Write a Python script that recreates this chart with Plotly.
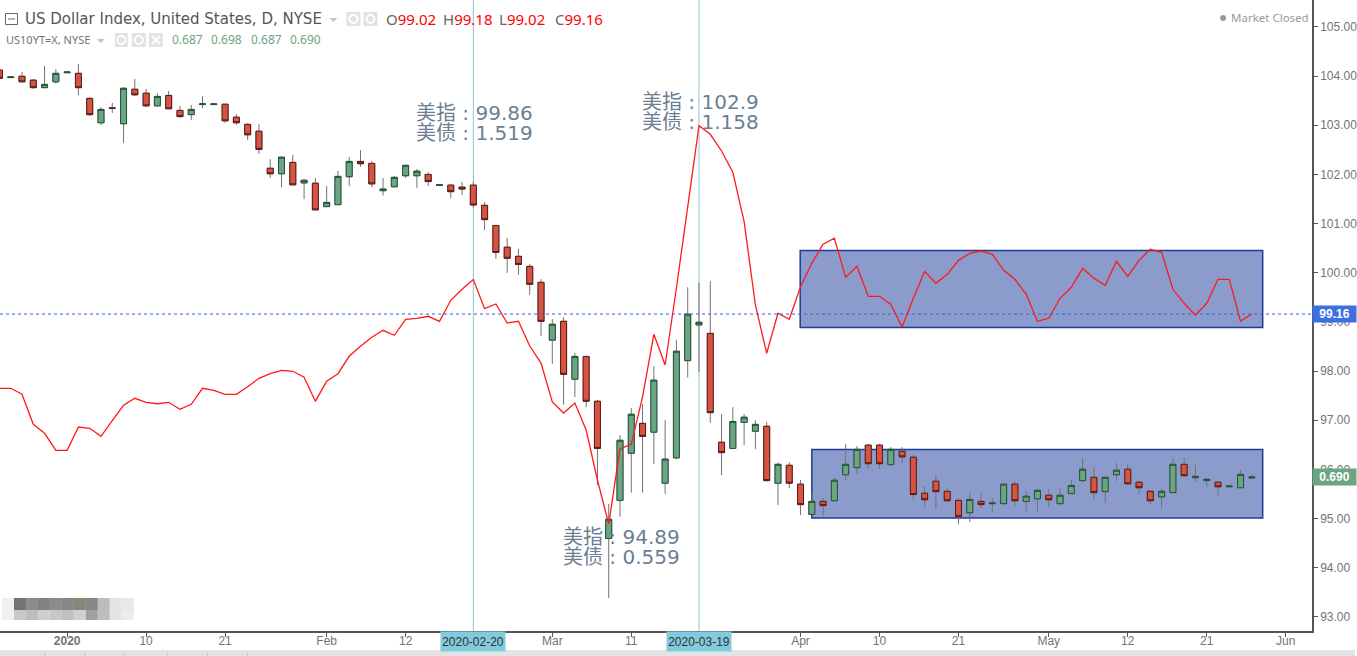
import pandas as pd
import plotly.graph_objects as go

W, H = 1357, 656
PL, PT = 1314, 631

# Trading-day categories of the chart (last candle 2020-05-27, axis runs on to June)
all_days = [d.strftime("%Y-%m-%d") for d in pd.bdate_range("2019-12-24", "2020-06-04")]
candle_days = all_days[:112]

tick_days = ["2020-01-01", "2020-01-10", "2020-01-21", "2020-02-03", "2020-02-12", "2020-03-02", "2020-03-11",
             "2020-04-01", "2020-04-10", "2020-04-21", "2020-05-01", "2020-05-12", "2020-05-21", "2020-06-01"]
tick_text = ["<b>2020</b>", "10", "21", "Feb", "12", "Mar", "11", "Apr", "10", "21", "May", "12", "21", "Jun"]

# US10YT=X daily candles (yield, drawn on its own hidden scale)
us10_open = [
    1.942, 1.919, 1.923, 1.911, 1.888, 1.906, 1.934, 1.932, 1.855, 1.780,
    1.826, 1.777, 1.883, 1.871, 1.832, 1.864, 1.818, 1.805, 1.836, 1.836,
    1.837, 1.797, 1.775, 1.754, 1.640, 1.623, 1.658, 1.595, 1.594, 1.522,
    1.528, 1.614, 1.661, 1.655, 1.571, 1.583, 1.617, 1.617, 1.621, 1.587,
    1.588, 1.582, 1.588, 1.526, 1.464, 1.397, 1.369, 1.338, 1.289, 1.111,
    1.169, 0.991, 1.061, 0.923, 0.501, 0.618, 0.763, 0.855, 0.828, 0.671,
    0.749, 1.048, 1.158, 1.132, 0.797, 0.778, 0.858, 0.831, 0.846, 0.671,
    0.726, 0.668, 0.575, 0.615, 0.617, 0.697, 0.719, 0.788, 0.788, 0.728,
    0.769, 0.751, 0.640, 0.677, 0.646, 0.618, 0.580, 0.615, 0.608, 0.608,
    0.668, 0.615, 0.623, 0.634, 0.608, 0.639, 0.679, 0.689, 0.645, 0.697,
    0.714, 0.674, 0.646, 0.629, 0.642, 0.729, 0.688, 0.679, 0.674, 0.660,
    0.657, 0.687]
us10_high = [
    1.942, 1.921, 1.936, 1.915, 1.955, 1.945, 1.936, 1.961, 1.858, 1.828,
    1.841, 1.890, 1.915, 1.884, 1.871, 1.878, 1.832, 1.835, 1.862, 1.838,
    1.838, 1.807, 1.779, 1.776, 1.668, 1.675, 1.681, 1.607, 1.610, 1.585,
    1.632, 1.675, 1.696, 1.662, 1.610, 1.616, 1.650, 1.638, 1.628, 1.589,
    1.591, 1.598, 1.598, 1.536, 1.465, 1.425, 1.392, 1.345, 1.299, 1.176,
    1.182, 1.072, 1.061, 0.927, 0.607, 0.819, 0.902, 0.915, 1.031, 0.865,
    1.112, 1.274, 1.287, 1.293, 0.884, 0.905, 0.884, 0.865, 0.859, 0.735,
    0.736, 0.681, 0.641, 0.625, 0.687, 0.792, 0.785, 0.792, 0.792, 0.782,
    0.782, 0.758, 0.662, 0.696, 0.656, 0.625, 0.641, 0.641, 0.625, 0.668,
    0.678, 0.647, 0.653, 0.653, 0.656, 0.681, 0.748, 0.721, 0.689, 0.733,
    0.730, 0.678, 0.650, 0.653, 0.748, 0.748, 0.727, 0.687, 0.678, 0.662,
    0.712, 0.698]
us10_low = [
    1.917, 1.919, 1.906, 1.884, 1.888, 1.900, 1.934, 1.865, 1.801, 1.773,
    1.810, 1.718, 1.863, 1.829, 1.832, 1.823, 1.796, 1.788, 1.825, 1.836,
    1.780, 1.774, 1.727, 1.684, 1.610, 1.582, 1.589, 1.545, 1.512, 1.522,
    1.528, 1.585, 1.645, 1.582, 1.556, 1.583, 1.610, 1.579, 1.585, 1.587,
    1.548, 1.558, 1.519, 1.450, 1.361, 1.318, 1.312, 1.250, 1.124, 1.038,
    0.912, 0.936, 0.905, 0.665, 0.318, 0.568, 0.642, 0.642, 0.730, 0.638,
    0.745, 0.996, 1.013, 0.857, 0.696, 0.778, 0.788, 0.776, 0.675, 0.604,
    0.656, 0.573, 0.575, 0.570, 0.617, 0.681, 0.699, 0.715, 0.715, 0.724,
    0.733, 0.622, 0.598, 0.592, 0.613, 0.545, 0.551, 0.595, 0.582, 0.605,
    0.598, 0.585, 0.585, 0.598, 0.601, 0.639, 0.672, 0.622, 0.610, 0.678,
    0.666, 0.638, 0.607, 0.595, 0.642, 0.694, 0.675, 0.660, 0.632, 0.660,
    0.657, 0.687]
us10_close = [
    1.917, 1.921, 1.906, 1.888, 1.898, 1.932, 1.936, 1.888, 1.805, 1.821,
    1.824, 1.886, 1.866, 1.832, 1.861, 1.823, 1.799, 1.821, 1.838, 1.838,
    1.786, 1.780, 1.743, 1.698, 1.623, 1.674, 1.589, 1.603, 1.512, 1.535,
    1.615, 1.661, 1.654, 1.592, 1.576, 1.612, 1.649, 1.631, 1.599, 1.589,
    1.568, 1.576, 1.527, 1.482, 1.381, 1.363, 1.344, 1.283, 1.169, 1.160,
    1.006, 1.061, 0.923, 0.778, 0.560, 0.803, 0.883, 0.815, 0.988, 0.745,
    1.077, 1.191, 1.166, 0.888, 0.765, 0.861, 0.874, 0.852, 0.679, 0.729,
    0.671, 0.605, 0.615, 0.602, 0.680, 0.729, 0.775, 0.731, 0.731, 0.775,
    0.752, 0.636, 0.620, 0.645, 0.617, 0.568, 0.621, 0.605, 0.610, 0.668,
    0.617, 0.631, 0.649, 0.620, 0.634, 0.664, 0.714, 0.642, 0.689, 0.711,
    0.669, 0.657, 0.617, 0.646, 0.729, 0.694, 0.692, 0.683, 0.660, 0.662,
    0.698, 0.690]

# US Dollar Index daily close (red line, on the visible right-hand scale)
dxy_close = [
    97.649, 97.649, 97.527, 96.916, 96.733, 96.387, 96.387, 96.861, 96.835, 96.672,
    96.989, 97.303, 97.445, 97.364, 97.335, 97.364, 97.221, 97.323, 97.649, 97.608,
    97.527, 97.527, 97.681, 97.852, 97.946, 98.015, 97.995, 97.873, 97.384, 97.791,
    97.946, 98.300, 98.503, 98.686, 98.829, 98.727, 99.053, 99.073, 99.114, 99.012,
    99.439, 99.663, 99.860, 99.268, 99.364, 98.977, 99.012, 98.509, 98.163, 97.370,
    97.146, 97.350, 96.800, 95.783, 94.890, 96.414, 96.515, 97.472, 98.747, 98.123,
    99.689, 101.297, 102.990, 102.817, 102.477, 102.043, 101.038, 99.344, 98.361, 99.175,
    99.053, 99.716, 100.192, 100.579, 100.701, 99.907, 100.131, 99.521, 99.521, 99.358,
    98.896, 99.480, 100.029, 99.785, 99.968, 100.253, 100.395, 100.442, 100.375, 100.050,
    99.866, 99.561, 99.012, 99.073, 99.480, 99.704, 100.090, 99.887, 99.744, 100.233,
    99.927, 100.253, 100.477, 100.416, 99.663, 99.378, 99.134, 99.378, 99.866, 99.866,
    99.012, 99.160]

dxy_ticks = [93, 94, 95, 96, 97, 98, 99, 100, 101, 102, 103, 104, 105]
dxy_last, us10_last = 99.16, 0.690
cross_days = ["2020-02-20", "2020-03-19"]
note_lines = [("美指 : 99.86", 416, 113), ("美债 : 1.519", 416, 133),
              ("美指 : 102.9", 642, 102), ("美债 : 1.158", 642, 122),
              ("美指 : 94.89", 563, 537), ("美债 : 0.559", 563, 557)]
# Highlighted ranges: [first index, last index, low, high]
dxy_box = [70.97, 111.96, 98.886, 100.452]
us10_box = [72.00, 111.96, 0.564, 0.775]

# smudge blocks in the lower-left corner
blur_top = ["#f0f0f0", "#737373", "#8c8c8c", "#828282", "#8c8c8c", "#868686", "#8a8578", "#868686", "#bcbcbc", "#e4e4e4", "#e8e8e8"]
blur_bot = ["#f0f0f0", "#c8c8c8", "#bdbdbd", "#cfcfcf", "#c8c8c8", "#c0c0c0", "#cfcfcf", "#a0a0a0", "#bdbdbd", "#e4e4e4", "#ececec"]

UP, DOWN, UP_EDGE, DOWN_EDGE, WICK = "#6ba583", "#d75442", "#225437", "#5b1a13", "#737375"
TEXT = "#737375"
AXIS = "#555555"
NOTE = "#6a7f93"
UI = "DejaVu Sans, Noto Sans CJK SC"


def X(px):
    return px / PL


def Y(py):
    return 1 - py / PT


fig = go.Figure()

# wicks
fig.add_trace(go.Candlestick(
    x=candle_days, open=us10_open, high=us10_high, low=us10_low, close=us10_close,
    increasing=dict(line=dict(color=WICK, width=1), fillcolor="rgba(0,0,0,0)"),
    decreasing=dict(line=dict(color=WICK, width=1), fillcolor="rgba(0,0,0,0)"),
    whiskerwidth=0, showlegend=False, hoverinfo="skip", yaxis="y"))
# bodies
fig.add_trace(go.Candlestick(
    x=candle_days, open=us10_open, close=us10_close,
    high=[max(a, b) for a, b in zip(us10_open, us10_close)],
    low=[min(a, b) for a, b in zip(us10_open, us10_close)],
    increasing=dict(line=dict(color=UP_EDGE, width=1), fillcolor=UP),
    decreasing=dict(line=dict(color=DOWN_EDGE, width=1), fillcolor=DOWN),
    whiskerwidth=0, showlegend=False, name="US10YT=X", yaxis="y"))
# dollar index
fig.add_trace(go.Scatter(x=candle_days, y=dxy_close, mode="lines", yaxis="y2",
                         line=dict(color="#ff1a1a", width=1.3), showlegend=False, name="US Dollar Index"))

shapes = []
# blurred blocks
for row, (colors, y0, y1) in enumerate([(blur_top, 598, 610), (blur_bot, 610, 620)]):
    for k, col in enumerate(colors):
        x0 = 2 if k == 0 else 14 + (k - 1) * 12
        x1 = 14 + k * 12
        shapes.append(dict(type="rect", xref="paper", yref="paper", x0=X(x0), x1=X(x1), y0=Y(y1), y1=Y(y0),
                           fillcolor=col, line_width=0, layer="below"))
# highlighted boxes
BOX = dict(type="rect", fillcolor="#8b9bcb", line=dict(color="#1c3c96", width=1.5), layer="below", xref="x")
shapes.append(dict(BOX, yref="y2", x0=dxy_box[0], x1=dxy_box[1], y0=dxy_box[2], y1=dxy_box[3]))
shapes.append(dict(BOX, yref="y", x0=us10_box[0], x1=us10_box[1], y0=us10_box[2], y1=us10_box[3]))
# crosshairs
for d in cross_days:
    shapes.append(dict(type="line", xref="x", yref="paper", x0=d, x1=d, y0=0, y1=1,
                       line=dict(color="#8fc3d2", width=1), layer="below"))
# last-value line
shapes.append(dict(type="line", xref="paper", yref="y2", x0=0, x1=1, y0=dxy_last, y1=dxy_last,
                   line=dict(color="#2f62e6", width=1, dash="dot")))
# bottom strip with its small marks
shapes.append(dict(type="rect", xref="paper", yref="paper", x0=0, x1=W / PL, y0=Y(656), y1=Y(650),
                   fillcolor="#e3e3e5", line_width=0))
for mx in [45, 85, 124, 168, 208, 248]:
    shapes.append(dict(type="line", xref="paper", yref="paper", x0=X(mx), x1=X(mx), y0=Y(656), y1=Y(653),
                       line=dict(color="#c4c4c4", width=1)))
# header icons
shapes.append(dict(type="rect", xref="paper", yref="paper", x0=X(5.5), x1=X(17.5), y0=Y(24.5), y1=Y(13.5),
                   fillcolor="white", line=dict(color="#666666", width=1)))
shapes.append(dict(type="line", xref="paper", yref="paper", x0=X(8), x1=X(15), y0=Y(19), y1=Y(19),
                   line=dict(color="#666666", width=1)))
for x0, x1, y0, y1 in [(347, 361, 12, 26), (364, 378, 12, 26), (115, 128, 33, 47), (132, 146, 33, 47), (149, 163, 33, 47)]:
    shapes.append(dict(type="rect", xref="paper", yref="paper", x0=X(x0), x1=X(x1), y0=Y(y1), y1=Y(y0),
                       fillcolor="#e2e2e2", line_width=0))
for cx, cy in [(354, 19), (371, 19), (121.5, 40), (139, 40)]:
    shapes.append(dict(type="circle", xref="paper", yref="paper", x0=X(cx - 4), x1=X(cx + 4), y0=Y(cy + 4), y1=Y(cy - 4),
                       fillcolor="#e2e2e2", line=dict(color="white", width=2)))
for a, b in [((152, 36), (160, 44)), ((152, 44), (160, 36))]:
    shapes.append(dict(type="line", xref="paper", yref="paper", x0=X(a[0]), x1=X(b[0]), y0=Y(a[1]), y1=Y(b[1]),
                       line=dict(color="white", width=2)))
for x0, x1, yy in [(330, 338, 18), (97, 105, 39)]:
    shapes.append(dict(type="path", xref="paper", yref="paper",
                       path=f"M {X(x0)} {Y(yy)} L {X(x1)} {Y(yy)} L {X((x0 + x1) / 2)} {Y(yy + 4)} Z",
                       fillcolor="#c4c4c4", line_width=0))
# market-closed dot
shapes.append(dict(type="circle", xref="paper", yref="paper", x0=X(1222), x1=X(1228), y0=Y(21), y1=Y(15),
                   fillcolor="#999999", line_width=0))

anns = []


def note(text, px, py, size, color, family=UI, anchor="left", **kw):
    anns.append(dict(text=text, xref="paper", yref="paper", x=X(px), y=Y(py), xanchor=anchor, yanchor="middle",
                     showarrow=False, font=dict(family=family, size=size, color=color), borderpad=0, **kw))


for text, px, py in note_lines:
    note(text, px, py, 20, NOTE)

note("US Dollar Index, United States, D, NYSE", 24, 19, 15, "#555555", family="DejaVu Sans")
RED = "#ff0000"
for lab, val, px in [("O", "99.02", 386), ("H", "99.18", 443), ("L", "99.02", 499), ("C", "99.16", 555)]:
    note(f"{lab}<span style='color:{RED}'>{val}</span>", px, 19, 15, "#666666", family="Noto Sans")
note("US10YT=X, NYSE", 5, 40, 11, TEXT, family="Noto Sans")
for val, px in [("0.687", 171), ("0.698", 210), ("0.687", 250), ("0.690", 289)]:
    note(val, px, 40, 12, UP, family="Noto Sans")
note("Market Closed", 1232, 18, 11.5, "#9a9a9a", family="Noto Sans")

for d in cross_days:
    idx = all_days.index(d)
    anns.append(dict(text=d, xref="x", yref="paper", x=idx, y=Y(641), xanchor="center", yanchor="middle",
                     showarrow=False, bgcolor="#80cbdc", width=64, height=19, borderpad=0,
                     font=dict(family="Liberation Sans", size=12, color="#333333")))
for val, col, yref in [(dxy_last, "#3c6fe0", "y2"), (us10_last, UP, "y")]:
    txt = f"{val:.2f}" if yref == "y2" else f"{val:.3f}"
    anns.append(dict(text=f"<b>{txt}</b>", xref="paper", yref=yref, x=X(1314), y=val, xanchor="left", yanchor="middle",
                     showarrow=False, bgcolor=col, width=43, height=16, borderpad=0,
                     font=dict(family="Liberation Sans", size=12, color="white")))

fig.update_layout(
    width=W, height=H, autosize=False,
    margin=dict(l=0, r=W - PL, t=0, b=H - PT, pad=0),
    paper_bgcolor="white", plot_bgcolor="rgba(0,0,0,0)",
    boxgap=0.47, boxgroupgap=0, hovermode=False, dragmode=False,
    shapes=shapes, annotations=anns,
    xaxis=dict(type="category", categoryorder="array", categoryarray=all_days,
               range=[0.05, 116.33], rangeslider=dict(visible=False), showgrid=False, zeroline=False,
               tickmode="array", tickvals=tick_days, ticktext=tick_text,
               ticks="outside", ticklen=4, tickwidth=1, tickcolor=AXIS,
               showline=True, linecolor=AXIS, linewidth=1.5, ticklabelstandoff=-6,
               tickfont=dict(family="Liberation Sans", size=12, color=TEXT)),
    yaxis=dict(range=[0.2162, 2.1577], visible=False, fixedrange=True),
    yaxis2=dict(range=[92.711, 105.549], overlaying="y", side="right", anchor="x", showgrid=False, zeroline=False,
                tickmode="array", tickvals=dxy_ticks, ticktext=[f"{v:.2f}" for v in dxy_ticks],
                ticks="outside", ticklen=4, tickwidth=1, tickcolor=AXIS,
                showline=True, linecolor=AXIS, linewidth=1.5,
                tickfont=dict(family="Liberation Sans", size=12, color=TEXT)),
)
assert len(us10_open) == len(us10_high) == len(us10_low) == len(us10_close) == len(dxy_close) == 112
fig.write_html("out.html", config=dict(displayModeBar=False),
               post_script="document.body.style.margin='0';document.body.style.overflow='hidden';")
